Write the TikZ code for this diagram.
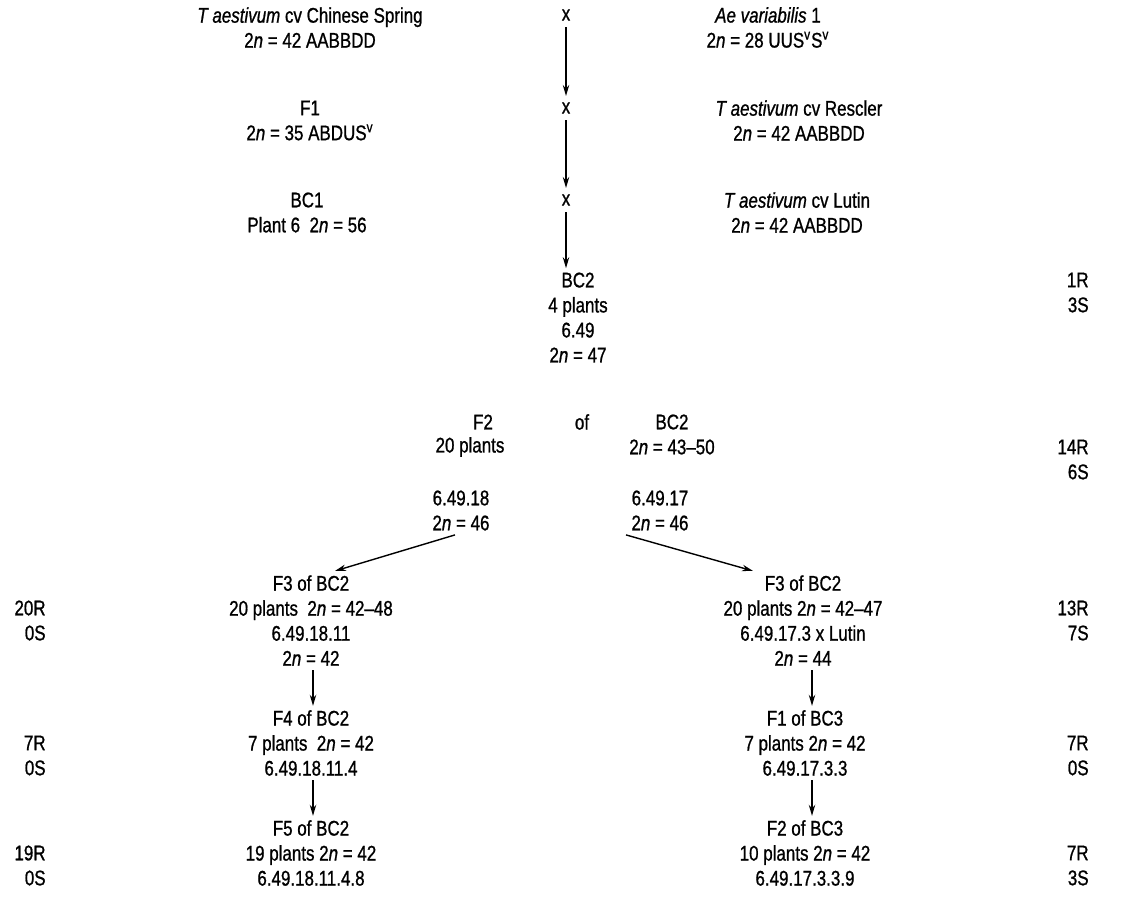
\documentclass[tikz,border=0pt]{standalone}
\usepackage{fontspec}
\setmainfont{Liberation Sans}[FakeStretch=0.8, FakeBold=0.9]
\usetikzlibrary{arrows.meta, positioning, calc}

\newcommand{\tn}{2\textit{n}}

\begin{document}
\begin{tikzpicture}[
    x=0.5pt, y=-0.5pt,
    >={Stealth[length=5.5pt, width=3.2pt]},
    gen/.style={align=center, inner sep=2pt,
                font=\fontsize{10.6}{12.5}\selectfont},
    cross/.style={gen, inner sep=3pt},
    score/.style={gen, align=right, anchor=east},
    arr/.style={->, line width=0.7pt}
  ]
  \useasboundingbox (0,0) rectangle (1139,910);

  \node[gen] (cs) at (310,27.5) {\textit{T aestivum} cv Chinese Spring\\\tn{} = 42 AABBDD};
  \node[cross] (xa) at (566,15) {x};
  \node[gen] (avar) at (768,27.5) {\textit{Ae variabilis} 1\\\tn{} = 28 UUS\textsuperscript{v}S\textsuperscript{v}};

  \node[gen] (fone) at (310,120.5) {F1\\\tn{} = 35 ABDUS\textsuperscript{v}};
  \node[cross] (xb) at (566,108) {x};
  \node[gen] (resc) at (799,120.5) {\textit{T aestivum} cv Rescler\\\tn{} = 42 AABBDD};

  \node[gen] (bcone) at (307,212.5) {BC1\\Plant 6\ \ \tn{} = 56};
  \node[cross] (xc) at (566,200) {x};
  \node[gen] (lutin) at (797,212.5) {\textit{T aestivum} cv Lutin\\\tn{} = 42 AABBDD};

  \node[gen] (bctwo) at (578,317.5) {BC2\\4 plants\\6.49\\\tn{} = 47};
  \node[score] (sbctwo) at (1093,292.5) {1R\\3S};

  \node[gen] (ftwo) at (483,422) {F2};
  \node[gen] (ftwon) at (470,447) {20 plants};
  \node[gen] (of) at (582,422) {of};
  \node[gen] (bcof) at (672,434.5) {BC2\\\tn{} = 43--50};
  \node[score] (sftwo) at (1093,459.5) {14R\\6S};

  \node[gen] (sel18) at (461,510.5) {6.49.18\\\tn{} = 46};
  \node[gen] (sel17) at (660,510.5) {6.49.17\\\tn{} = 46};

  \node[gen] (fthreel) at (311,620.5) {F3 of BC2\\20 plants\ \ \tn{} = 42--48\\6.49.18.11\\\tn{} = 42};
  \node[gen] (fthreer) at (803,620.5) {F3 of BC2\\20 plants \tn{} = 42--47\\6.49.17.3 x Lutin\\\tn{} = 44};
  \node[score] (sthreel) at (50,620.5) {20R\\0S};
  \node[score] (sthreer) at (1093,620.5) {13R\\7S};

  \node[gen] (ffourl) at (311,743) {F4 of BC2\\7 plants\ \ \tn{} = 42\\6.49.18.11.4};
  \node[gen] (ffourr) at (805,743) {F1 of BC3\\7 plants \tn{} = 42\\6.49.17.3.3};
  \node[score] (sfourl) at (50,755.5) {7R\\0S};
  \node[score] (sfourr) at (1093,755.5) {7R\\0S};

  \node[gen] (ffivel) at (311,853) {F5 of BC2\\19 plants \tn{} = 42\\6.49.18.11.4.8};
  \node[gen] (ffiver) at (805,853) {F2 of BC3\\10 plants \tn{} = 42\\6.49.17.3.3.9};
  \node[score] (sfivel) at (50,865.5) {19R\\0S};
  \node[score] (sfiver) at (1093,865.5) {7R\\3S};

  \draw[arr] (xa) -- (xb);
  \draw[arr] (xb) -- (xc);
  \draw[arr] (xc) -- (xc |- bctwo.north);
  \draw[arr] ([xshift=-3pt]sel18.south) -- ([xshift=12pt]fthreel.north);
  \draw[arr] ([xshift=-17pt]sel17.south) -- ([xshift=-25pt]fthreer.north);
  \draw[arr] ([xshift=1pt]fthreel.south) -- ([xshift=1pt]fthreel.south |- ffourl.north);
  \draw[arr] ([xshift=1pt]ffourl.south) -- ([xshift=1pt]ffourl.south |- ffivel.north);
  \draw[arr] ([xshift=4.5pt]fthreer.south) -- ([xshift=4.5pt]fthreer.south |- ffourr.north);
  \draw[arr] ([xshift=3.5pt]ffourr.south) -- ([xshift=3.5pt]ffourr.south |- ffiver.north);
\end{tikzpicture}
\end{document}
